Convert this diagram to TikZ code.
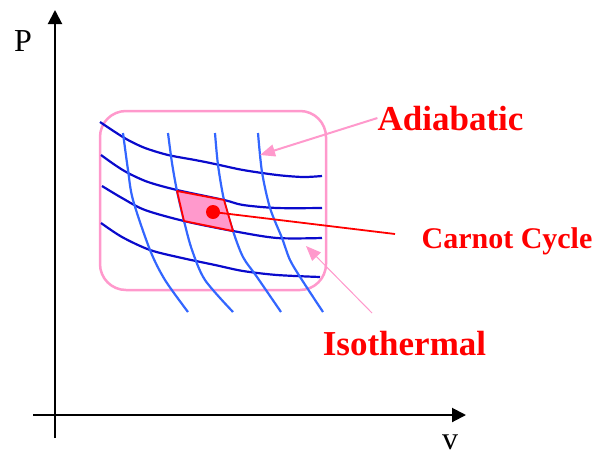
\documentclass[tikz,border=0pt]{standalone}
\usepackage{fontspec}
\setmainfont{Liberation Serif}
\usetikzlibrary{arrows.meta}
\definecolor{pinkline}{HTML}{FF99CC}
\definecolor{isoblue}{HTML}{0A0ACC}
\definecolor{adiblue}{HTML}{3366FF}
\definecolor{cyclered}{HTML}{FF0000}
\tikzset{
  axis/.style={line width=2pt, draw=black, -{Triangle[length=14pt,width=14pt]}},
  isotherm/.style={line width=2.2pt, draw=isoblue},
  adiabat/.style={line width=2.2pt, draw=adiblue},
  callout/.style={draw=pinkline, fill=pinkline, -{Triangle[length=15pt,width=12pt]}},
  tag/.style={text=cyclered, font=\bfseries\fontsize{35}{35}\selectfont, anchor=base, inner sep=0pt},
  axislabel/.style={font=\fontsize{32}{32}\selectfont, anchor=base, inner sep=0pt},
}
\begin{document}
\begin{tikzpicture}[x=1pt, y=-1pt]
  \useasboundingbox (0,0) rectangle (593,458);

  % axes
  \coordinate (origin-y) at (55,438);
  \coordinate (top-y) at (55,10);
  \coordinate (origin-x) at (33,415);
  \coordinate (end-x) at (466,415);
  \draw[axis] (origin-y) -- (top-y);
  \draw[axis] (origin-x) -- (end-x);
  \node[axislabel] (plabel) at (23,51) {P};
  \node[axislabel] (vlabel) at (450,449) {v};

  % region box
  \node[draw=pinkline, line width=2.5pt, rounded corners=26pt, minimum width=226pt,
        minimum height=179pt, inner sep=0pt] (region) at (213,200.5) {};

  % isotherms
  \draw[isotherm] plot[smooth] coordinates {(100,122) (115,132) (128,140) (145,148) (168,155) (195,160) (215,164) (243,170) (277,175) (303,177) (322,176)};
  \draw[isotherm] plot[smooth] coordinates {(101,155) (115,165) (128,173) (148,182) (177,190) (224,200) (243,205) (277,208) (322,208)};
  \draw[isotherm] plot[smooth] coordinates {(102,186) (122,198) (145,210) (184,221) (233,231) (277,238) (322,238)};
  \draw[isotherm] plot[smooth] coordinates {(101,223) (122,237) (150,250) (182,258) (215,265) (243,271) (277,275) (320,277)};

  % adiabats
  \draw[adiabat] plot[smooth] coordinates {(123,133) (128,170) (133,200) (150,250) (165,280) (188,312)};
  \draw[adiabat] plot[smooth] coordinates {(168,133) (172,163) (177,191) (184,221) (192,250) (205,280) (233,312)};
  \draw[adiabat] plot[smooth] coordinates {(215,133) (218,165) (224,200) (233,231) (243,257) (257,277) (281,312)};
  \draw[adiabat] plot[smooth] coordinates {(258,133) (262,172) (270,208) (282,238) (290,260) (302,280) (323,312)};

  % carnot cycle
  \draw[draw=cyclered, fill=pinkline, line width=1.8pt, line join=round]
    (177,191) -- (224,200) -- (233,231) -- (184,221) -- cycle;
  \node[circle, fill=cyclered, minimum size=14pt, inner sep=0pt] (state) at (213,212) {};
  \coordinate (cycle-end) at (395,234);
  \draw[draw=cyclered, line width=1.8pt] (state.center) -- (cycle-end);

  % labels
  \node[tag] (adiab) at (450.5,130) {Adiabatic};
  \node[tag] (isoth) at (404.5,355) {Isothermal};
  \node[tag, font=\bfseries\fontsize{30}{30}\selectfont] (carnot) at (507,248) {Carnot Cycle};

  \coordinate (adiab-tip) at (260,155);
  \coordinate (isoth-start) at (372,313);
  \coordinate (isoth-tip) at (306,246);
  \draw[callout, line width=2pt] (adiab.west) -- (adiab-tip);
  \draw[callout, line width=1pt] (isoth-start) -- (isoth-tip);
\end{tikzpicture}
\end{document}
